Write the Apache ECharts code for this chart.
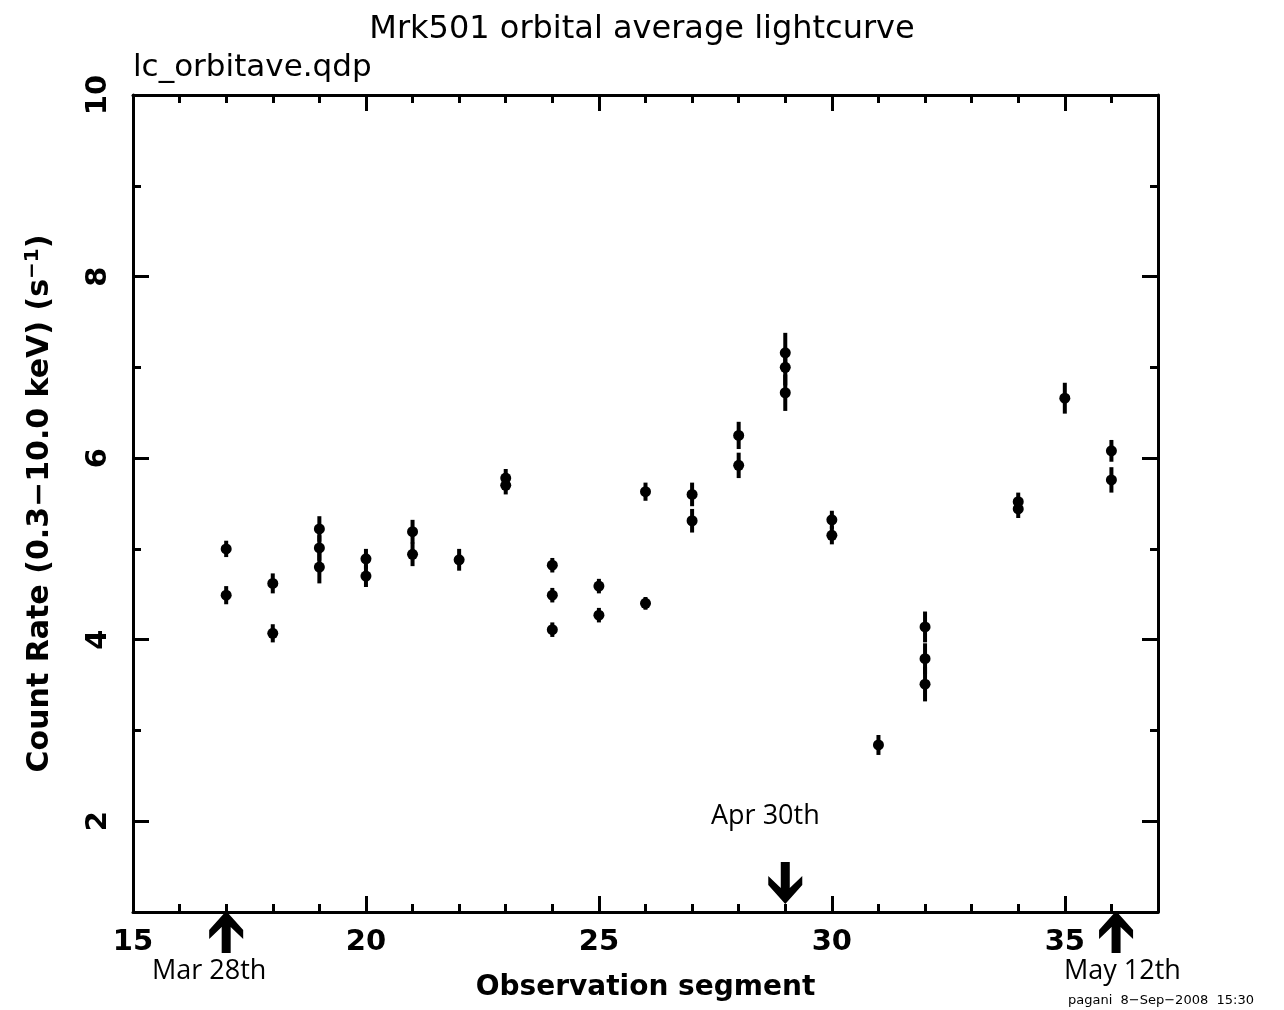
<!DOCTYPE html>
<html>
<head>
<meta charset="utf-8">
<script src="https://cdn.jsdelivr.net/npm/echarts@6/dist/echarts.min.js"></script>
<style>
html, body { margin: 0; padding: 0; background: #fff; }
#main { width: 1284px; height: 1010px; }
</style>
</head>
<body>
<div id="main"></div>
<script>
// observation segment, count rate and 1-sigma error
var segment = [17, 17, 18, 18, 19, 19, 19, 20, 20, 21, 21, 22, 23, 23, 24, 24, 24, 25, 25, 26, 26,
	27, 27, 28, 28, 29, 29, 29, 30, 30, 31, 32, 32, 32, 34, 34, 35, 36, 36];
var rate = [5.00, 4.49, 4.62, 4.07, 5.22, 5.01, 4.80, 4.89, 4.70, 5.19, 4.94, 4.88, 5.78, 5.70,
	4.82, 4.49, 4.11, 4.59, 4.27, 5.63, 4.40, 5.60, 5.31, 6.25, 5.92, 7.16, 7.00, 6.72, 5.32, 5.15,
	2.84, 4.14, 3.79, 3.51, 5.52, 5.44, 6.66, 6.08, 5.76];
var rateErr = [0.09, 0.10, 0.11, 0.10, 0.14, 0.14, 0.18, 0.11, 0.12, 0.13, 0.13, 0.12, 0.10, 0.10,
	0.08, 0.08, 0.08, 0.08, 0.08, 0.10, 0.07, 0.13, 0.13, 0.15, 0.14, 0.22, 0.20, 0.20, 0.10, 0.10,
	0.11, 0.17, 0.17, 0.19, 0.10, 0.10, 0.17, 0.12, 0.14];

// date markers
var markSeg = [17, 29, 36.1];
var markDir = ['up', 'down', 'up'];

var xMajor = [15, 20, 25, 30, 35];
var yMajor = [2, 4, 6, 8, 10];

var points = [];
for (var i = 0; i < segment.length; i++) {
	points.push([segment[i], rate[i], rateErr[i]]);
}
var marks = [];
for (var j = 0; j < markSeg.length; j++) {
	marks.push([markSeg[j], 1, markDir[j]]);
}

var FONT = 'DejaVu Sans';
var LW = 3;

function xAx(pos, major) {
	return {
		type: 'value', position: pos, min: 15, max: 37,
		interval: major ? 5 : 1,
		axisLine: { show: !major, onZero: false, lineStyle: { color: '#000', width: LW } },
		axisTick: major
			? { show: true, inside: true, length: 16, customValues: xMajor, lineStyle: { color: '#000', width: LW } }
			: { show: true, inside: true, length: 8, lineStyle: { color: '#000', width: LW } },
		axisLabel: (major && pos === 'bottom')
			? { show: true, customValues: xMajor, margin: 16, color: '#000', fontFamily: FONT, fontSize: 29, fontWeight: 'bold' }
			: { show: false },
		splitLine: { show: false },
		name: (major && pos === 'bottom') ? 'Observation segment' : '',
		nameLocation: 'middle',
		nameGap: 62,
		nameTextStyle: { color: '#000', fontFamily: FONT, fontSize: 28, fontWeight: 'bold' }
	};
}

function yAx(pos, major) {
	return {
		type: 'value', position: pos, min: 1, max: 10,
		interval: 1,
		axisLine: { show: !major, onZero: false, lineStyle: { color: '#000', width: LW } },
		axisTick: major
			? { show: true, inside: true, length: 16, customValues: yMajor, lineStyle: { color: '#000', width: LW } }
			: { show: true, inside: true, length: 8, lineStyle: { color: '#000', width: LW } },
		axisLabel: (major && pos === 'left')
			? { show: true, customValues: yMajor, rotate: 90, margin: 20, color: '#000', fontFamily: FONT, fontSize: 29, fontWeight: 'bold' }
			: { show: false },
		splitLine: { show: false },
		name: (major && pos === 'left') ? 'Count Rate (0.3\u221210.0 keV) (s{sup|\u22121})' : '',
		nameLocation: 'middle',
		nameRotate: 90,
		nameGap: 76,
		nameTextStyle: {
			color: '#000', fontFamily: FONT, fontSize: 30, fontWeight: 'bold',
			rich: { sup: { fontFamily: FONT, fontSize: 20, fontWeight: 'bold', verticalAlign: 'top', padding: [0, 0, 14, 0] } }
		}
	};
}

var chart = echarts.init(document.getElementById('main'));
chart.setOption({
	animation: false,
	backgroundColor: '#fff',
	title: {
		text: 'Mrk501 orbital average lightcurve',
		left: 'center', top: 9,
		textStyle: { color: '#000', fontFamily: FONT, fontSize: 32, fontWeight: 'normal' }
	},
	grid: { left: 133, right: 126, top: 95, bottom: 98, containLabel: false },
	xAxis: [xAx('bottom', false), xAx('bottom', true), xAx('top', false), xAx('top', true)],
	yAxis: [yAx('left', false), yAx('left', true), yAx('right', false), yAx('right', true)],
	graphic: [
		{ type: 'text', left: 133, top: 52, style: { text: 'lc_orbitave.qdp', fill: '#000', font: '31px "DejaVu Sans"' } },
		{ type: 'text', left: 152, top: 958, style: { text: 'Mar 28th', fill: '#000', font: '27px "Open Sans"' } },
		{ type: 'text', left: 711, top: 803, style: { text: 'Apr 30th', fill: '#000', font: '27px "Open Sans"' } },
		{ type: 'text', left: 1064, top: 958, style: { text: 'May 12th', fill: '#000', font: '27px "Open Sans"' } },
		{ type: 'text', left: 1068, top: 994, style: { text: 'pagani  8\u2212Sep\u22122008  15:30', fill: '#000', font: '13px "DejaVu Sans"' } }
	],
	series: [
		{
			type: 'custom',
			name: 'error',
			data: points,
			encode: { x: 0, y: 1 },
			renderItem: function (params, api) {
				var x = api.value(0), y = api.value(1), e = api.value(2);
				var lo = api.coord([x, y - e]);
				var hi = api.coord([x, y + e]);
				return {
					type: 'line',
					shape: { x1: lo[0], y1: lo[1], x2: hi[0], y2: hi[1] },
					style: { stroke: '#000', lineWidth: 4 }
				};
			},
			z: 3
		},
		{
			type: 'scatter',
			name: 'rate',
			data: points,
			symbol: 'circle',
			symbolSize: 11,
			itemStyle: { color: '#000', opacity: 1 },
			z: 4
		},
		{
			type: 'custom',
			name: 'arrows',
			data: marks,
			clip: false,
			renderItem: function (params, api) {
				var p = api.coord([api.value(0), api.value(1)]);
				var up = api.value(2) === 'up';
				var s = up ? 1 : -1;
				var ty = up ? p[1] - 1 : p[1] - 8;
				var pts = [[0, 0], [17, 19], [17, 28], [4.5, 16], [4.5, 42], [-4.5, 42], [-4.5, 16], [-17, 28], [-17, 19]];
				return {
					type: 'polygon',
					shape: { points: pts.map(function (q) { return [p[0] + q[0], ty + s * q[1]]; }) },
					style: { fill: '#000' }
				};
			},
			z: 5
		}
	]
});
</script>
</body>
</html>
